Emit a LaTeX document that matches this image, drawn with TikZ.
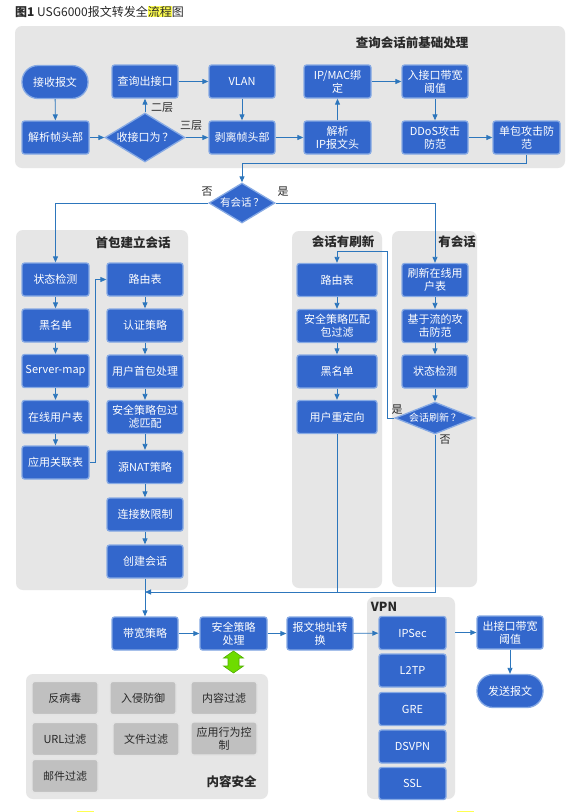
\documentclass[tikz,border=0pt]{standalone}
\usepackage{fontspec}
\setmainfont{Noto Sans CJK SC}
\usetikzlibrary{shapes.geometric,arrows.meta}
\definecolor{boxblue}{RGB}{51,103,204}
\definecolor{boxedge}{RGB}{135,170,228}
\definecolor{linec}{RGB}{45,118,188}
\definecolor{panelg}{RGB}{230,230,230}
\definecolor{grayfill}{RGB}{192,192,192}
\definecolor{grayedge}{RGB}{228,228,228}
\definecolor{txtdark}{RGB}{40,40,40}
\definecolor{hl}{RGB}{255,255,80}
\definecolor{arrgreen}{RGB}{110,220,0}
\definecolor{arrgreenedge}{RGB}{80,175,0}
\begin{document}
\begin{tikzpicture}[x=1pt,y=-1pt,
 bbox/.style={draw=boxedge, line width=1.3pt, fill=boxblue, rounded corners=2.5pt, text=white, font=\fontsize{11}{13}\selectfont, align=center, inner sep=0pt, minimum height=33pt, minimum width=66pt},
 term/.style={bbox, rounded corners=16pt},
 dia/.style={diamond, draw=boxedge, line width=1.3pt, fill=boxblue, text=white, font=\fontsize{11}{13}\selectfont, inner sep=0pt},
 gbox/.style={draw=grayedge, line width=1.3pt, fill=grayfill, rounded corners=2.5pt, text=txtdark, font=\fontsize{11}{13}\selectfont, align=center, inner sep=0pt, minimum height=33pt, minimum width=66pt},
 panel/.style={fill=panelg, rounded corners=7pt, draw=none, inner sep=0pt},
 ptitle/.style={font=\bfseries\fontsize{12.5}{14}\selectfont, text=txtdark, inner sep=0pt},
 lbl/.style={font=\fontsize{11}{13}\selectfont, text=txtdark, inner sep=0pt},
 conn/.style={draw=linec, line width=0.85pt, -{Triangle[length=6pt,width=5pt]}},
 plain/.style={draw=linec, line width=0.85pt},
]
\useasboundingbox (0,0) rectangle (571,812);
\fill[white] (0,0) rectangle (571,812);

% title
\node[anchor=west, inner sep=0pt, font=\fontsize{12}{14}\selectfont, text=txtdark] (title) at (15,12)
  {{\bfseries 图1} USG6000报文转发全{\setlength{\fboxsep}{0pt}\colorbox{hl}{流程}}图};

% panels
\node[panel, minimum width=550, minimum height=142] (p0) at (290,97) {};
\node[panel, minimum width=172, minimum height=360] (p1) at (102,410) {};
\node[panel, minimum width=90, minimum height=357] (p2) at (337,409.5) {};
\node[panel, minimum width=85, minimum height=356] (p3) at (434.5,409) {};
\node[panel, minimum width=88, minimum height=202] (pv) at (411,698) {};
\node[panel, minimum width=242, minimum height=125] (pc) at (147,736.5) {};

\node[ptitle] (t0) at (412,43) {查询会话前基础处理};
\node[ptitle] (t1) at (133,243) {首包建立会话};
\node[ptitle] (t2) at (343,242) {会话有刷新};
\node[ptitle] (t3) at (457,242) {有会话};
\node[ptitle] (t4) at (384,607) {VPN};
\node[ptitle] (t5) at (231.5,782) {内容安全};

% top section
\node[term] (recv) at (55,82) {接收报文};
\node[bbox, minimum width=67] (parse) at (55.5,137.5) {解析帧头部};
\node[bbox] (query) at (145,81.5) {查询出接口};
\node[dia, minimum width=80, minimum height=49, aspect=1.63] (iface) at (145,137.5) {收接口为\,？};
\node[bbox] (vlan) at (242,81.5) {VLAN};
\node[bbox] (strip) at (242,137.5) {剥离帧头部};
\node[bbox, minimum width=67] (ipmac) at (337.5,81.5) {IP/MAC绑\\定};
\node[bbox, minimum width=67] (parseip) at (337.5,137.5) {解析\\IP报文头};
\node[bbox] (inbw) at (435,81.5) {入接口带宽\\阈值};
\node[bbox] (ddos) at (435,137.5) {DDoS攻击\\防范};
\node[bbox, minimum width=67] (single) at (526.5,137.5) {单包攻击防\\范};

\node[lbl] (l2) at (162,108) {二层};
\node[lbl] (l3) at (191,126) {三层};

\draw[conn] (recv) -- (parse);
\draw[conn] (parse) -- (iface);
\draw[conn] (iface.north) -- (query.south);
\draw[conn] (iface.east) -- (strip.west);
\draw[conn] (query) -- (vlan);
\draw[conn] (vlan) -- (strip);
\draw[conn] (strip) -- (parseip);
\draw[conn] (parseip) -- (ipmac);
\draw[conn] (ipmac) -- (inbw);
\draw[conn] (inbw) -- (ddos);
\draw[conn] (ddos) -- (single);

% has session
\node[dia, minimum width=66, minimum height=40, aspect=1.65, font=\fontsize{10.5}{12}\selectfont] (hasS) at (242,203) {有会话\,？};
\node[lbl] (lno1) at (207,192) {否};
\node[lbl] (lyes1) at (283,192) {是};
\coordinate (j1) at (242,163);
\draw[conn] (single.south) |- (j1) -- (hasS.north);

% first packet
\node[bbox, minimum width=67] (st1) at (55.5,279.5) {状态检测};
\node[bbox, minimum width=67] (bl1) at (55.5,325.5) {黑名单};
\node[bbox, minimum width=67] (smap) at (55.5,371) {Server-map};
\node[bbox, minimum width=67] (olu) at (55.5,417) {在线用户表};
\node[bbox, minimum width=67] (app) at (55.5,462.5) {应用关联表};

\node[bbox, minimum width=76] (rt1) at (145,279.5) {路由表};
\node[bbox, minimum width=76] (auth) at (145,325.5) {认证策略};
\node[bbox, minimum width=76] (ufp) at (145,371.5) {用户首包处理};
\node[bbox, minimum width=76] (secm) at (145,417) {安全策略包过\\滤匹配};
\node[bbox, minimum width=76] (snat) at (145,467) {源NAT策略};
\node[bbox, minimum width=76] (climit) at (145,514.5) {连接数限制};
\node[bbox, minimum width=76] (crs) at (145,561.5) {创建会话};

\draw[conn] (hasS.west) -| (st1.north);
\draw[conn] (st1) -- (bl1);
\draw[conn] (bl1) -- (smap);
\draw[conn] (smap) -- (olu);
\draw[conn] (olu) -- (app);
\coordinate (b1) at (95,462.5);
\draw[conn] (app.east) -- (b1) |- (rt1.west);
\draw[conn] (rt1) -- (auth);
\draw[conn] (auth) -- (ufp);
\draw[conn] (ufp) -- (secm);
\draw[conn] (secm) -- (snat);
\draw[conn] (snat) -- (climit);
\draw[conn] (climit) -- (crs);

% session refreshed
\node[bbox, minimum width=80] (rt2) at (337,280) {路由表};
\node[bbox, minimum width=80] (secf) at (337,326) {安全策略匹配\\包过滤};
\node[bbox, minimum width=80] (bl2) at (337,371.5) {黑名单};
\node[bbox, minimum width=80] (redir) at (337,417) {用户重定向};

\draw[conn] (rt2) -- (secf);
\draw[conn] (secf) -- (bl2);
\draw[conn] (bl2) -- (redir);

% has session column
\node[bbox] (ref1) at (435,280) {刷新在线用\\户表};
\node[bbox] (flow) at (435,326) {基于流的攻\\击防范};
\node[bbox] (st2) at (435,371.5) {状态检测};
\node[dia, font=\fontsize{10}{12}\selectfont, minimum width=80, minimum height=32, aspect=2.5] (sref) at (435,418) {会话刷新\,？};
\node[lbl] (lyes2) at (397,409.5) {是};
\node[lbl] (lno2) at (445,440) {否};

\draw[conn] (hasS.east) -| (ref1.north);
\draw[conn] (ref1) -- (flow);
\draw[conn] (flow) -- (st2);
\draw[conn] (st2) -- (sref);
\coordinate (c1) at (387,418);
\coordinate (c2) at (337,251);
\draw[conn] (sref.west) -- (c1) |- (c2) -- (rt2.north);

% bottom row
\node[bbox] (bw) at (145,633.5) {带宽策略};
\node[bbox, minimum width=67] (secp) at (233.5,633.5) {安全策略\\处理};
\node[bbox] (nat) at (320,633.5) {报文地址转\\换};

\coordinate (j2) at (435,592);
\coordinate (j3) at (145,592);
\draw[plain] (redir.south) -- (redir.south |- j2);
\draw[conn] (sref.south) -- (j2) -- (j3);
\draw[conn] (crs) -- (bw);
\draw[conn] (bw) -- (secp);
\draw[conn] (secp) -- (nat);

% VPN
\node[bbox, minimum width=67] (ipsec) at (412.5,633) {IPSec};
\node[bbox, minimum width=67] (l2tp) at (412.5,670.5) {L2TP};
\node[bbox, minimum width=67] (gre) at (412.5,709) {GRE};
\node[bbox, minimum width=67] (dsvpn) at (412.5,746.5) {DSVPN};
\node[bbox, minimum width=67, minimum height=32] (ssl) at (412.5,783.5) {SSL};

\node[bbox] (outbw) at (510,632.5) {出接口带宽\\阈值};
\node[term] (send) at (510,691) {发送报文};

\draw[conn] (nat) -- (ipsec);
\draw[conn] (pv.east |- outbw) -- (outbw.west);
\draw[conn] (outbw) -- (send);

% green double arrow
\filldraw[fill=arrgreen, draw=arrgreenedge, line width=0.6pt]
  (233.5,651) -- (243.5,658) -- (239,658) -- (239,666) -- (243.5,666) -- (233.5,673)
  -- (223.5,666) -- (228,666) -- (228,658) -- (223.5,658) -- cycle;

% content security
\node[gbox] (av) at (65,698) {反病毒};
\node[gbox] (ips) at (143,698) {入侵防御};
\node[gbox] (cf) at (224,698) {内容过滤};
\node[gbox] (url) at (65,739) {URL过滤};
\node[gbox] (ff) at (146,739) {文件过滤};
\node[gbox] (abc) at (224,738.5) {应用行为控\\制};
\node[gbox] (mail) at (65,776) {邮件过滤};

% cut-off highlight fragments at bottom edge
\fill[hl] (77,810.5) rectangle (94,812);
\fill[hl] (457,810.5) rectangle (474,812);
\end{tikzpicture}
\end{document}
